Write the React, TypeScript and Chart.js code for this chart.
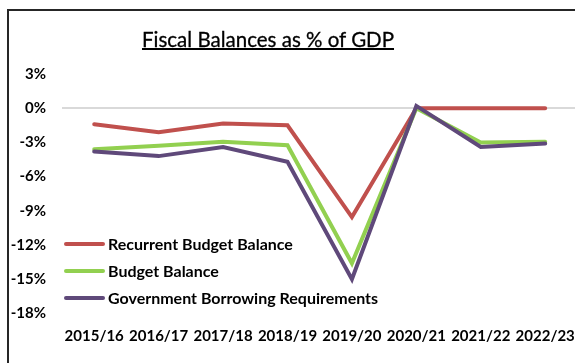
import React, { useEffect, useRef } from "react";
import { Chart, registerables } from "chart.js";

Chart.register(...registerables);

const categories = ["2015/16", "2016/17", "2017/18", "2018/19", "2019/20", "2020/21", "2021/22", "2022/23"];
const recurrentBudgetBalance = [-1.4, -2.1, -1.35, -1.5, -9.55, 0, 0, 0];
const budgetBalance = [-3.6, -3.3, -2.95, -3.25, -13.6, 0.0, -3.0, -2.95];
const governmentBorrowingRequirements = [-3.8, -4.2, -3.4, -4.7, -15.0, 0.2, -3.4, -3.1];
const seriesLabels = ["Recurrent Budget Balance", "Budget Balance", "Government Borrowing Requirements"];
const seriesColors = ["#C0504D", "#92D050", "#5F497A"];
const seriesData = [recurrentBudgetBalance, budgetBalance, governmentBorrowingRequirements];
const yMin = -18;
const yMax = 3;
const yStep = 3;
const titleText = "Fiscal Balances as % of GDP";

const tickFont = { family: "Lato", weight: "bold" as const, size: 15 };

export default function App() {
  const ref = useRef<HTMLCanvasElement>(null);

  useEffect(() => {
    if (!ref.current) return;
    const chart = new Chart(ref.current, {
      type: "line",
      data: {
        labels: categories,
        datasets: seriesData.map((d, i) => ({
          label: seriesLabels[i],
          data: d,
          borderColor: seriesColors[i],
          backgroundColor: seriesColors[i],
          borderWidth: 4,
          pointRadius: 0,
          pointHoverRadius: 0,
          tension: 0,
          fill: false,
          borderCapStyle: "round" as const,
          borderJoinStyle: "miter" as const,
          order: seriesData.length - i,
        })),
      },
      options: {
        responsive: false,
        animation: false,
        layout: { padding: { top: 63, left: 0, right: 31.6, bottom: 17.5 } },
        plugins: {
          legend: { display: false },
          title: { display: false },
          tooltip: { enabled: false },
        },
        scales: {
          x: {
            offset: true,
            grid: { display: false, drawTicks: false },
            border: { display: false },
            ticks: {
              color: "#000",
              font: tickFont,
              padding: 14,
              maxRotation: 0,
              minRotation: 0,
              autoSkip: false,
            },
            afterFit: (s: any) => {
              s.height = 40;
            },
          },
          y: {
            min: yMin,
            max: yMax,
            ticks: {
              stepSize: yStep,
              color: "#000",
              font: tickFont,
              padding: 16,
              callback: (v: any) => `${v}%`,
            },
            grid: {
              drawTicks: false,
              lineWidth: 2,
              color: (ctx: any) => (ctx.tick && ctx.tick.value === 0 ? "#d9d9d9" : "rgba(0,0,0,0)"),
            },
            border: { display: false },
            afterFit: (s: any) => {
              s.width = 53;
            },
          },
        },
      },
    });
    return () => chart.destroy();
  }, []);

  return (
    <div
      style={{
        position: "fixed",
        left: 0,
        top: 0,
        width: 575,
        height: 363,
        overflow: "hidden",
        background: "#fff",
      }}
    >
      <div
        style={{
          position: "absolute",
          left: 7,
          top: 9,
          width: 700,
          height: 500,
          border: "2px solid #262626",
        }}
      >
        <canvas ref={ref} width={600} height={360} style={{ position: "absolute", left: 0, top: 0 }} />
      </div>
      <div
        style={{
          position: "absolute",
          left: 268,
          top: 27,
          transform: "translateX(-50%)",
          whiteSpace: "nowrap",
          fontFamily: "Lato",
          fontSize: 20.5,
          lineHeight: "24px",
          color: "#000",
          textDecoration: "underline",
          textDecorationThickness: "1.5px",
          WebkitTextStroke: "0.3px #000",
        }}
      >
        {titleText}
      </div>
      <div style={{ position: "absolute", left: 64, top: 230 }}>
        {seriesLabels.map((label, i) => (
          <div key={label} style={{ display: "flex", alignItems: "center", height: 27 }}>
            <div
              style={{
                width: 41,
                height: 4,
                borderRadius: 2,
                background: seriesColors[i],
                marginRight: 3,
              }}
            />
            <span
              style={{
                fontFamily: "Lato",
                fontWeight: "bold",
                fontSize: 16,
                color: "#000",
                whiteSpace: "nowrap",
              }}
            >
              {label}
            </span>
          </div>
        ))}
      </div>
    </div>
  );
}
